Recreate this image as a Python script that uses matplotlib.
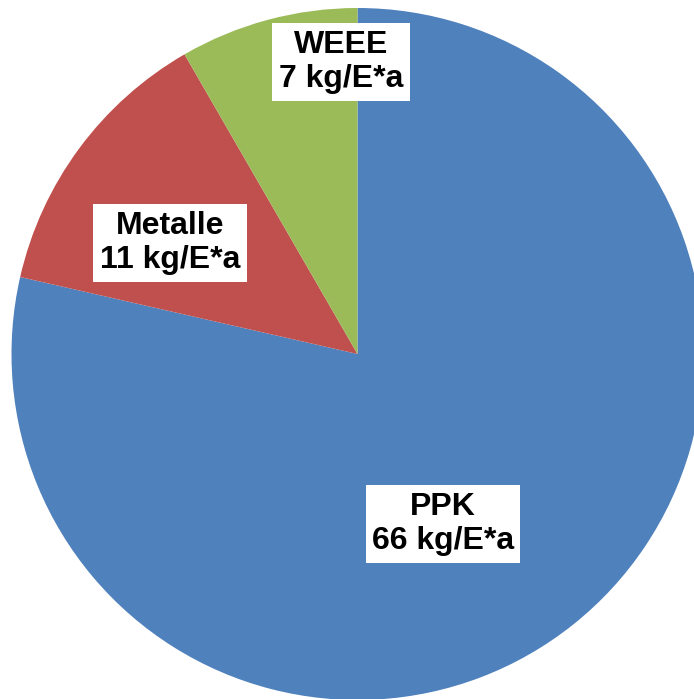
import matplotlib.pyplot as plt

# Amounts per inhabitant and year
categories = ["PPK", "Metalle", "WEEE"]
values = [66, 11, 7]
colors = ["#4F81BD", "#C0504D", "#9BBB59"]

# label anchor points (pixel coordinates of the canvas)
label_pos = [(443, 699 - 524), (170, 699 - 243), (341, 699 - 62)]

plt.rcParams["font.family"] = ["Liberation Sans", "DejaVu Sans"]

fig = plt.figure(figsize=(6.94, 6.99), dpi=100)
ax = fig.add_axes([0, 0, 1, 1])

ax.pie(values, colors=colors, startangle=90, counterclock=False,
       radius=346, center=(357.5, 699 - 354), frame=True,
       wedgeprops=dict(linewidth=0))
ax.set_xlim(0, 694)
ax.set_ylim(0, 699)
ax.set_aspect("equal")
ax.axis("off")

for name, v, (x, y) in zip(categories, values, label_pos):
    ax.text(x, y, f"{name}\n{v} kg/E*a", ha="center", va="center",
            fontsize=23, fontweight="bold", color="black", linespacing=1.2,
            bbox=dict(boxstyle="square,pad=0.2", fc="white", ec="none"))

fig.savefig("out.png", dpi=100)
